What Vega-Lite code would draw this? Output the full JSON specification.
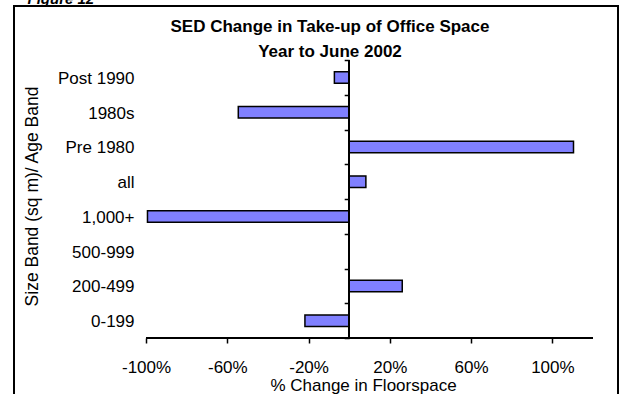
{
  "$schema": "https://vega.github.io/schema/vega-lite/v6.json",
  "width": 604,
  "height": 390,
  "autosize": {"type": "none"},
  "padding": {"left": 14, "top": 6, "right": 11, "bottom": 0},
  "background": "white",
  "title": {
    "text": ["SED Change in Take-up of Office Space", "Year to June 2002"],
    "fontSize": 17,
    "fontWeight": "bold",
    "font": "Liberation Sans",
    "color": "black",
    "lineHeight": 25,
    "anchor": "middle",
    "frame": "group",
    "dx": 14,
    "offset": -70
  },
  "config": {
    "font": "Liberation Sans",
    "view": {"stroke": "black", "strokeWidth": 2}
  },
  "data": {
    "values": [
      {"band": "Post 1990", "change": -7.3},
      {"band": "1980s", "change": -54.6},
      {"band": "Pre 1980", "change": 110.4},
      {"band": "all", "change": 8.2},
      {"band": "1,000+", "change": -99.3},
      {"band": "500-999", "change": 0},
      {"band": "200-499", "change": 26.1},
      {"band": "0-199", "change": -21.8}
    ]
  },
  "layer": [
    {
      "mark": {"type": "bar", "size": 11.5, "fill": "#8080ff", "stroke": "black", "strokeWidth": 1.5},
      "encoding": {
        "y": {
          "field": "band",
          "type": "nominal",
          "sort": null,
          "scale": {
            "domain": ["Post 1990", "1980s", "Pre 1980", "all", "1,000+", "500-999", "200-499", "0-199"],
            "range": [54, 332],
            "paddingInner": 0,
            "paddingOuter": 0
          },
          "axis": {
            "orient": "left",
            "offset": -132,
            "domain": false,
            "ticks": false,
            "grid": false,
            "labelPadding": 12,
            "labelOffset": 1.5,
            "labelFontSize": 17,
            "labelColor": "black",
            "title": "Size Band (sq m)/ Age Band",
            "titleFontSize": 17.5,
            "titleFontWeight": "normal",
            "titleColor": "black",
            "titleX": -114,
            "titleY": 190,
            "titleAngle": 270,
            "titleAlign": "center",
            "titleBaseline": "middle"
          }
        },
        "x": {
          "field": "change",
          "type": "quantitative",
          "scale": {"domain": [-165, 132.3], "nice": false},
          "axis": {
            "orient": "bottom",
            "offset": -58,
            "values": [-100, -60, -20, 20, 60, 100],
            "labelExpr": "datum.value + '%'",
            "domain": false,
            "grid": false,
            "ticks": true,
            "tickSize": 5,
            "tickWidth": 1.5,
            "tickColor": "black",
            "labelFontSize": 17,
            "labelColor": "black",
            "labelPadding": 16,
            "title": "% Change in Floorspace",
            "titleFontSize": 17,
            "titleFontWeight": "normal",
            "titleColor": "black",
            "titleX": 349,
            "titleY": 52,
            "titleAlign": "center",
            "titleBaseline": "alphabetic"
          }
        },
        "x2": {"datum": 0}
      }
    },
    {
      "mark": {"type": "rule", "color": "black", "strokeWidth": 1.5},
      "encoding": {
        "x": {"datum": 0, "type": "quantitative", "axis": null},
        "y": {
          "datum": "Post 1990",
          "type": "nominal",
          "bandPosition": 0,
          "axis": {
            "orient": "left",
            "offset": -335.2,
            "domain": false,
            "labels": false,
            "grid": false,
            "ticks": true,
            "tickBand": "extent",
            "tickSize": 5,
            "tickWidth": 1.5,
            "tickColor": "black",
            "title": null
          }
        },
        "y2": {"datum": "0-199", "bandPosition": 1}
      }
    },
    {
      "mark": {"type": "rule", "color": "black", "strokeWidth": 1.5},
      "encoding": {
        "x": {
          "datum": -100,
          "type": "quantitative",
          "axis": {
            "orient": "top",
            "domain": false,
            "ticks": false,
            "labels": false,
            "grid": false,
            "title": "Figure 12",
            "titleFontSize": 15,
            "titleFontWeight": "bold",
            "titleFontStyle": "italic",
            "titleColor": "black",
            "titleAnchor": "start",
            "titleAlign": "left",
            "titleX": 13,
            "titleY": -3,
            "titleBaseline": "alphabetic"
          }
        },
        "x2": {"datum": 120},
        "y": {"datum": "0-199", "type": "nominal", "bandPosition": 1, "axis": null}
      }
    }
  ],
  "resolve": {"axis": {"x": "independent", "y": "independent"}}
}
